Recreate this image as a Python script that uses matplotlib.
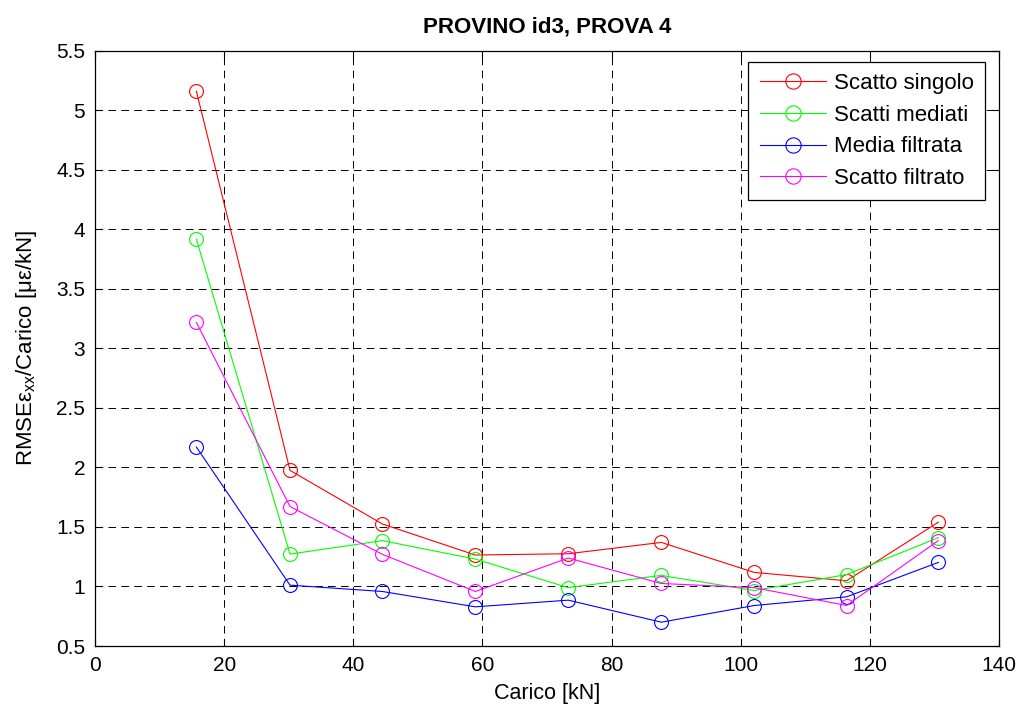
import matplotlib
matplotlib.use("Agg")
import matplotlib.pyplot as plt

# Load levels [kN]
carico = [15.7, 30.2, 44.5, 58.9, 73.3, 87.7, 102.1, 116.4, 130.6]

# RMSE of eps_xx normalised by load [microstrain/kN]
scatto_singolo = [5.16, 1.975, 1.525, 1.264, 1.275, 1.37, 1.118, 1.048, 1.54]
scatti_mediati = [3.917, 1.272, 1.385, 1.23, 0.99, 1.093, 0.966, 1.10, 1.41]
media_filtrata = [2.171, 1.011, 0.958, 0.829, 0.885, 0.70, 0.84, 0.913, 1.202]
scatto_filtrato = [3.218, 1.671, 1.27, 0.958, 1.239, 1.025, 0.99, 0.84, 1.385]

series_labels = ["Scatto singolo", "Scatti mediati", "Media filtrata", "Scatto filtrato"]
series_colors = ["#ff0000", "#00ff00", "#0000ff", "#ff00ff"]

xticks = [0, 20, 40, 60, 80, 100, 120, 140]
yticks = [0.5, 1, 1.5, 2, 2.5, 3, 3.5, 4, 4.5, 5, 5.5]

plt.rcParams["font.family"] = ["Liberation Sans", "DejaVu Sans"]
plt.rcParams["mathtext.fontset"] = "custom"
plt.rcParams["mathtext.rm"] = "Liberation Sans"
plt.rcParams["mathtext.it"] = "Liberation Sans"
plt.rcParams["lines.scale_dashes"] = False

fig = plt.figure(figsize=(10.25, 7.06), dpi=100)
ax = fig.add_axes([95 / 1025, 1 - 646 / 706, (999 - 95) / 1025, (646 - 50.7) / 706])

for vals, lab, col in zip([scatto_singolo, scatti_mediati, media_filtrata, scatto_filtrato],
                          series_labels, series_colors):
    ax.plot(carico, vals, color=col, lw=0.8, marker="o", markersize=10,
            markerfacecolor="none", markeredgecolor=col, markeredgewidth=0.8,
            label=lab, zorder=3)

ax.set_xlim(0, 140)
ax.set_ylim(0.5, 5.5)
ax.set_xticks(xticks)
ax.set_yticks(yticks)
ax.set_xticklabels([str(t) for t in xticks])
ax.set_yticklabels([("%g" % t) for t in yticks])
ax.tick_params(direction="in", length=5, width=0.8, labelsize=15,
               top=True, right=True, pad=7)
ax.grid(True, color="black", linestyle=(0, (5.5, 3.8)), linewidth=0.7)
for sp in ax.spines.values():
    sp.set_linewidth(0.9)

ax.set_title("PROVINO id3, PROVA 4", fontsize=16, fontweight="bold", pad=13)
ax.set_xlabel("Carico [kN]", fontsize=15.5, labelpad=6)
ax.set_ylabel(r"RMSE$\mathrm{ε}_{\mathrm{xx}}$/Carico [με/kN]", fontsize=16, labelpad=12)

leg = ax.legend(loc="upper right", bbox_to_anchor=(0.9845, 0.981), fontsize=16,
                frameon=True, fancybox=False, framealpha=1, edgecolor="black",
                handlelength=3.0, borderpad=0.5, labelspacing=0.48,
                handletextpad=0.35, borderaxespad=0, markerscale=1.1)
leg.get_frame().set_linewidth(0.9)

fig.savefig("out.png", dpi=100)
